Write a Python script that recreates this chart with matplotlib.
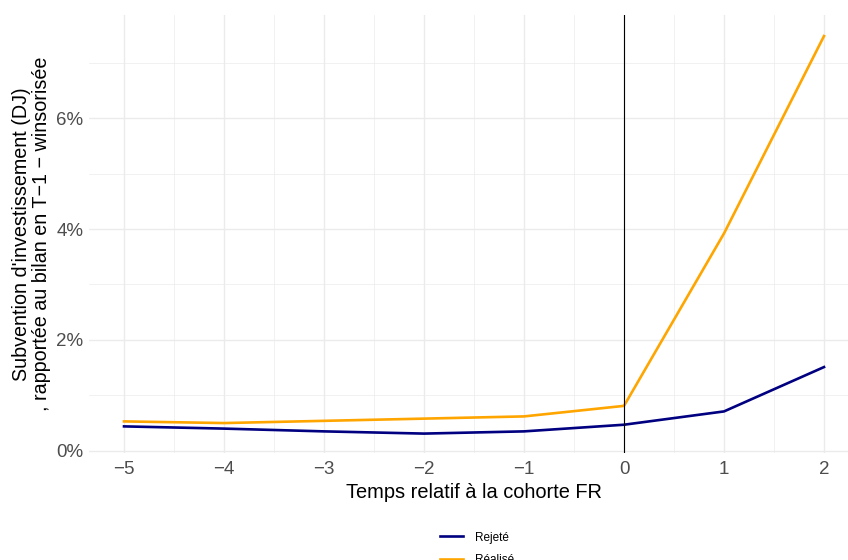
import numpy as np
import matplotlib
matplotlib.use("Agg")
from matplotlib import pyplot as plt
from matplotlib.ticker import FuncFormatter

# données (en %)
temps = [-5, -4, -3, -2, -1, 0, 1, 2]
rejete = [0.44, 0.40, 0.35, 0.31, 0.35, 0.47, 0.71, 1.51]
realise = [0.53, 0.50, 0.54, 0.58, 0.62, 0.81, 3.92, 7.48]
series = ["Rejeté", "Réalisé"]
couleurs = ["#000080", "#FFA500"]

plt.rcParams['font.family'] = ['Liberation Sans', 'DejaVu Sans']

fig = plt.figure(figsize=(8.48, 5.6), dpi=100)
# le panneau dépasse un peu à droite (image rognée comme l'original)
ax = fig.add_axes([89/848, 1-453/560, (859-89)/848, (453-15)/560])

grid_col = "#ebebeb"
for x in np.arange(-5, 2.5, 1):
    ax.axvline(x, color=grid_col, lw=1.0, zorder=0)
for x in np.arange(-4.5, 2.5, 1):
    ax.axvline(x, color=grid_col, lw=0.5, zorder=0)
for y in [0, 2, 4, 6]:
    ax.axhline(y, color=grid_col, lw=1.0, zorder=0)
for y in [1, 3, 5, 7]:
    ax.axhline(y, color=grid_col, lw=0.5, zorder=0)

lignes = []
for nom, vals, c in zip(series, [rejete, realise], couleurs):
    l, = ax.plot(temps, vals, color=c, lw=1.9, label=nom, zorder=3)
    lignes.append(l)

ax.axvline(0, color="black", lw=0.8, zorder=4)

ax.set_xlim(-5.35, 2.35)
ax.set_ylim(-0.04, 7.86)
ax.set_xticks(temps)
ax.set_xticklabels([str(t).replace("-", "\u2212") for t in temps])
ax.set_yticks([0, 2, 4, 6])
ax.yaxis.set_major_formatter(FuncFormatter(lambda v, p: f"{v:.0f}%"))
ax.tick_params(length=0, labelsize=13.5, labelcolor="#4d4d4d", pad=4)
ax.tick_params(axis="x", pad=6)
for s in ax.spines.values():
    s.set_visible(False)

ax.set_xlabel("Temps relatif à la cohorte FR", fontsize=14.4, labelpad=3)
ax.set_ylabel("Subvention d'investissement (DJ)\n, rapportée au bilan en T\u22121 \u2212 winsorisée",
              fontsize=14.2, labelpad=4, linespacing=1.05)

fig.legend(lignes, series, loc="upper left", bbox_to_anchor=(429/848, 1-521/560),
           frameon=False, fontsize=8.5, handlelength=2.0, handletextpad=1.0,
           labelspacing=0.9)

fig.savefig("out.png", dpi=100)
